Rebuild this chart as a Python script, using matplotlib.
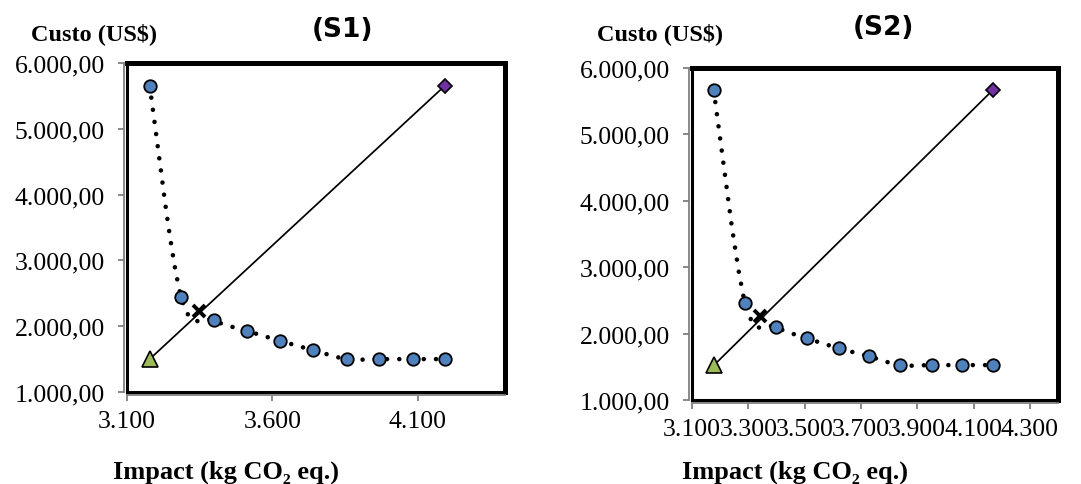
"""
  Pareto fronts (custo x impacto) for scenarios S1 and S2
"""
import matplotlib.pyplot as plt
import numpy as np
from matplotlib.path import Path
from matplotlib.patches import PathPatch

################################################################################
# Data

impact_s1 = [3178, 3286, 3399, 3513, 3627, 3740, 3856, 3965, 4082, 4194]
cost_s1 = [5658, 2446, 2089, 1928, 1777, 1636, 1500, 1500, 1500, 1500]
utopia_s1 = (3178, 1500)
nadir_s1 = (4194, 5658)
chosen_s1 = (3349, 2230)

impact_s2 = [3177, 3289, 3399, 3508, 3621, 3730, 3840, 3953, 4058, 4169]
cost_s2 = [5670, 2454, 2100, 1930, 1780, 1656, 1526, 1526, 1526, 1526]
utopia_s2 = (3177, 1520)
nadir_s2 = (4169, 5670)
chosen_s2 = (3340, 2266)

titles = ['(S1)', '(S2)']
xticks_s1 = [3100, 3600, 4100]
xticks_s2 = [3100, 3300, 3500, 3700, 3900, 4100, 4300]
yticks = [1000, 2000, 3000, 4000, 5000, 6000]

W, H = 1081., 485.
serif = ['Liberation Serif', 'DejaVu Serif']
plt.rcParams['lines.scale_dashes'] = False


def smoothPath(xs, ys):
  """ smoothPath : float[] float[] -> Path
  Excel style smoothed line (Catmull-Rom as cubic bezier)
  """
  pts = np.column_stack([xs, ys]).astype(float)
  ext = np.vstack([pts[0], pts, pts[-1]])
  verts = [pts[0]]
  codes = [Path.MOVETO]
  for i in range(1, len(ext)-2):
    c1 = ext[i] + (ext[i+1] - ext[i-1])/6.
    c2 = ext[i+1] - (ext[i+2] - ext[i])/6.
    verts += [c1, c2, ext[i+1]]
    codes += [Path.CURVE4]*3
  return Path(verts, codes)


def fmtY(v):
  s = '{:,.2f}'.format(v)
  return s.replace(',', '#').replace('.', ',').replace('#', '.')


def fmtX(v):
  return '{:,.0f}'.format(v).replace(',', '.')


def drawPanel(ax, xs, ys, utopia, nadir, chosen, xticks):
  # thick plot-area border on top/right, gray axis lines just outside
  for side in ['top', 'right']:
    ax.spines[side].set_linewidth(3.6)
    ax.spines[side].set_color('black')
  for side in ['left', 'bottom']:
    ax.spines[side].set_linewidth(1.3)
    ax.spines[side].set_color('#808080')
    ax.spines[side].set_position(('outward', 2))
  ax.plot([0, 0], [0, 1], color='black', lw=2.2, transform=ax.transAxes,
          clip_on=False, solid_capstyle='projecting', zorder=7)
  ax.plot([0, 1], [0, 0], color='black', lw=2.2, transform=ax.transAxes,
          clip_on=False, solid_capstyle='projecting', zorder=7)

  # dotted smoothed front
  patch = PathPatch(smoothPath(xs, ys), fill=False, edgecolor='black',
                    linewidth=3.3, linestyle=(0, (0.01, 8.8)),
                    capstyle='round', zorder=2)
  ax.add_patch(patch)
  # line utopia -> nadir
  ax.plot([utopia[0], nadir[0]], [utopia[1], nadir[1]], color='black',
          lw=1.25, zorder=3)
  ax.plot(xs, ys, 'o', ms=9, mfc='#4F81BD', mec='black', mew=1.3, zorder=4)
  ax.plot(utopia[0], utopia[1], '^', ms=11, mfc='#9BBB59', mec='black',
          mew=1.2, zorder=5)
  ax.plot(nadir[0], nadir[1], 'D', ms=7.2, mfc='#7030A0', mec='black',
          mew=1.2, zorder=5)
  ax.plot(chosen[0], chosen[1], 'x', ms=9, color='black', mew=2.8, zorder=6)

  ax.set_xlim(3100, 4400)
  ax.set_ylim(1000, 6000)
  ax.set_xticks(xticks)
  ax.set_yticks(yticks)
  ax.set_xticklabels([fmtX(v) for v in xticks], family=serif, fontsize=18.5)
  ax.set_yticklabels([fmtY(v) for v in yticks], family=serif, fontsize=18.5)
  ax.tick_params(axis='both', direction='out', length=4, width=1.3,
                 color='#808080')
  ax.tick_params(axis='y', pad=10)
  ax.tick_params(axis='x', pad=7)


fig = plt.figure(figsize=(W/100, H/100), dpi=100)
ax1 = fig.add_axes([127/W, 1-393/H, 378/W, 329/H])
ax2 = fig.add_axes([692/W, 1-401/H, 366/W, 332/H])

drawPanel(ax1, impact_s1, cost_s1, utopia_s1, nadir_s1, chosen_s1, xticks_s1)
drawPanel(ax2, impact_s2, cost_s2, utopia_s2, nadir_s2, chosen_s2, xticks_s2)

# Titles and labels
for cx, cy, t in [(342, 30, titles[0]), (883, 28, titles[1])]:
  fig.text(cx/W, 1-cy/H, t, ha='center', va='center', fontsize=19,
           fontweight='bold', family='DejaVu Sans')
for cx, cy in [(94, 34), (660, 34)]:
  fig.text(cx/W, 1-cy/H, 'Custo (US$)', ha='center', va='center',
           fontsize=17.5, fontweight='bold', family=serif)
for cx, cy in [(226, 472), (795, 472)]:
  fig.text(cx/W, 1-cy/H, 'Impact (kg CO\u2082 eq.)', ha='center', va='center',
           fontsize=19, fontweight='bold', family=serif)

plt.savefig('out.png', dpi=100)
